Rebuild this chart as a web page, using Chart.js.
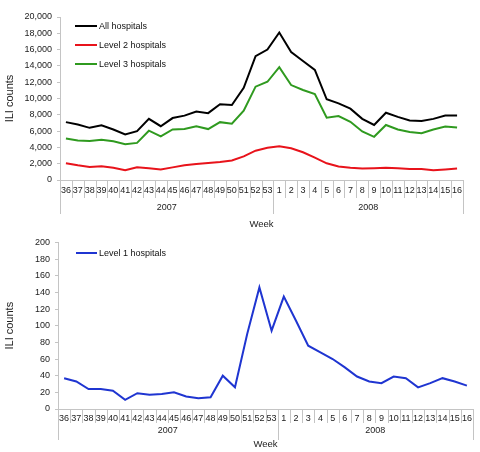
<!DOCTYPE html>
<html>
<head>
<meta charset="utf-8">
<script src="https://cdn.jsdelivr.net/npm/chart.js@4/dist/chart.umd.min.js"></script>
<style>
  html, body { margin: 0; padding: 0; background: #fff; }
  #top { position: absolute; left: 0; top: 0; width: 480px; height: 232px; }
  #bottom { position: absolute; left: 0; top: 232px; width: 480px; height: 220px; }
</style>
</head>
<body>
<div id="top"><canvas id="c1"></canvas></div>
<div id="bottom"><canvas id="c2"></canvas></div>
<script>
// week numbers, 2007 wk 36 .. 2008 wk 16
var weeks = ['36','37','38','39','40','41','42','43','44','45','46','47','48','49','50','51','52','53',
             '1','2','3','4','5','6','7','8','9','10','11','12','13','14','15','16'];
var yearLabels = ['2007', '2008'];
var yearFirstWeek = [0, 18];   // index into weeks where each year starts

var allHospitals = [7100,6800,6400,6700,6200,5600,6000,7500,6600,7600,7900,8400,8200,9300,9200,11300,15200,16000,
                    18100,15700,14600,13500,9900,9400,8750,7500,6750,8250,7750,7300,7250,7500,7900,7900];
var level2 = [2050,1800,1600,1700,1500,1200,1550,1450,1300,1550,1800,1950,2100,2200,2400,2900,3600,3950,
              4150,3900,3400,2750,2050,1650,1500,1400,1450,1500,1450,1350,1350,1200,1300,1400];
var level3 = [5100,4850,4800,4950,4750,4400,4550,6050,5350,6200,6250,6600,6250,7100,6900,8500,11450,12050,
              13850,11650,11050,10550,7650,7850,7150,5950,5300,6750,6200,5900,5750,6200,6550,6450];
var level1 = [37,33,24,24,22,11,19,17,18,20,15,13,14,40,26,90,146,94,
              135,106,76,68,60,50,39,33,31,39,37,26,31,37,33,28];

Chart.defaults.font.family = '"Liberation Sans", Arial, sans-serif';
Chart.defaults.color = '#222';

var AXIS_GREY = '#c4c4c4';

/**
 * Draws the little separators between weeks and the year row
 * under the category axis.
 */
var weekAxisPlugin = {
  id: 'weekAxis',
  afterDraw: function (chart, args, opts) {
    var ctx = chart.ctx;
    var x = chart.scales.x;
    var y0 = x.top;
    var n = weeks.length;
    ctx.save();
    ctx.strokeStyle = AXIS_GREY;
    ctx.lineWidth = 1;
    ctx.beginPath();
    for (var i = 0; i <= n; i++) {
      var px = Math.round(x.getPixelForValue(i - 0.5)) + 0.5;
      var isYear = yearFirstWeek.indexOf(i) >= 0 || i === n;
      ctx.moveTo(px, y0);
      ctx.lineTo(px, y0 + (isYear ? opts.yearLen : opts.sepLen));
    }
    ctx.stroke();

    ctx.fillStyle = '#222';
    ctx.font = '9px "Liberation Sans", Arial, sans-serif';
    ctx.textAlign = 'center';
    ctx.textBaseline = 'middle';
    for (var k = 0; k < yearLabels.length; k++) {
      var from = yearFirstWeek[k];
      var to = (k + 1 < yearFirstWeek.length) ? yearFirstWeek[k + 1] : n;
      var a = x.getPixelForValue(from - 0.5);
      var b = x.getPixelForValue(to - 0.5);
      ctx.fillText(yearLabels[k], (a + b) / 2, y0 + opts.yearY);
    }
    ctx.restore();
  }
};

// legend drawn inside the plot, top left
var innerLegendPlugin = {
  id: 'innerLegend',
  afterDraw: function (chart, args, opts) {
    var ctx = chart.ctx;
    ctx.save();
    ctx.font = '9px "Liberation Sans", Arial, sans-serif';
    ctx.textBaseline = 'middle';
    ctx.textAlign = 'left';
    chart.data.datasets.forEach(function (ds, i) {
      var y = opts.y + i * opts.gap;
      ctx.strokeStyle = ds.borderColor;
      ctx.lineWidth = 2;
      ctx.beginPath();
      ctx.moveTo(opts.x, y);
      ctx.lineTo(opts.x + opts.lineLen, y);
      ctx.stroke();
      ctx.fillStyle = '#111';
      ctx.fillText(ds.label, opts.x + opts.lineLen + 2, y + 0.5);
    });
    ctx.restore();
  }
};

function makeChart(id, datasets, yMax, yStep, geo) {
  return new Chart(document.getElementById(id), {
    type: 'line',
    data: { labels: weeks, datasets: datasets },
    options: {
      responsive: true,
      maintainAspectRatio: false,
      animation: false,
      layout: { padding: { top: geo.top, right: geo.right, left: 0, bottom: 0 } },
      elements: {
        point: { radius: 0 },
        line: { borderWidth: 2, tension: 0 }
      },
      plugins: {
        legend: { display: false },
        tooltip: { enabled: false },
        weekAxis: geo.axis,
        innerLegend: geo.legend
      },
      scales: {
        x: {
          offset: true,
          grid: { display: false, drawTicks: false, tickLength: 0 },
          border: { display: true, color: AXIS_GREY },
          ticks: {
            autoSkip: false, maxRotation: 0, minRotation: 0,
            padding: geo.tickPad, color: '#222',
            font: { size: 9 }
          },
          title: {
            display: true, text: 'Week', color: '#222',
            font: { size: 9.5 }, padding: { top: 0, bottom: 2 }
          },
          afterFit: function (s) { s.height = geo.xHeight; }
        },
        y: {
          min: 0, max: yMax,
          ticks: { stepSize: yStep, color: '#222', font: { size: 9 }, padding: 5 },
          grid: { display: true, drawOnChartArea: false, tickLength: 3, color: AXIS_GREY },
          border: { color: AXIS_GREY },
          title: {
            display: true, text: 'ILI counts', color: '#222',
            font: { size: 11 }, padding: { top: 3, bottom: 0 }
          },
          afterFit: function (s) { s.width = geo.yWidth; }
        }
      }
    },
    plugins: [weekAxisPlugin, innerLegendPlugin]
  });
}

makeChart('c1', [
  { label: 'All hospitals', data: allHospitals, borderColor: '#000000', backgroundColor: '#000000' },
  { label: 'Level 2 hospitals', data: level2, borderColor: '#e8131b', backgroundColor: '#e8131b' },
  { label: 'Level 3 hospitals', data: level3, borderColor: '#2f9a1f', backgroundColor: '#2f9a1f' }
], 20000, 2000, {
  top: 17, right: 17, yWidth: 60, xHeight: 52, tickPad: 5,
  axis: { sepLen: 18, yearLen: 34, yearY: 28 },
  legend: { x: 75, y: 26, gap: 19, lineLen: 22 }
});

makeChart('c2', [
  { label: 'Level 1 hospitals', data: level1, borderColor: '#1f35d1', backgroundColor: '#1f35d1' }
], 200, 20, {
  top: 6, right: 7, yWidth: 58, xHeight: 43, tickPad: 4,
  axis: { sepLen: 14, yearLen: 31, yearY: 22 },
  legend: { x: 76, y: 21, gap: 19, lineLen: 21 }
});
</script>
</body>
</html>
